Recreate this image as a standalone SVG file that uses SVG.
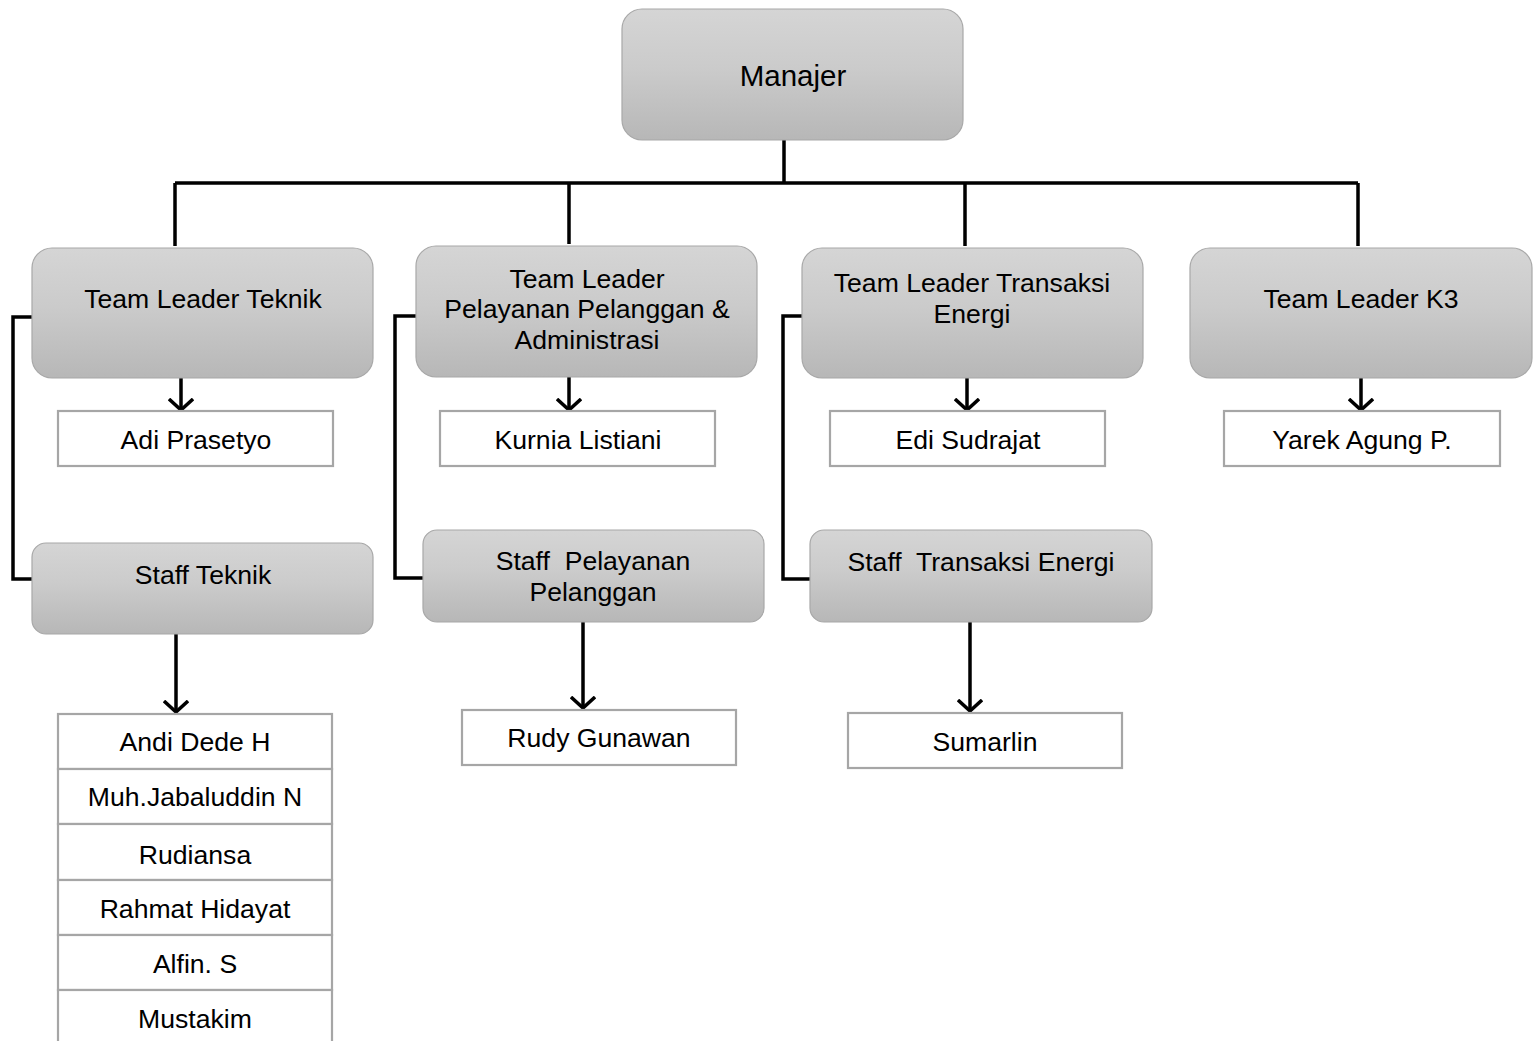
<svg xmlns="http://www.w3.org/2000/svg" width="1537" height="1041" viewBox="0 0 1537 1041">
<defs>
<linearGradient id="g" x1="0" y1="0" x2="0" y2="1">
<stop offset="0" stop-color="#d5d5d5"/>
<stop offset="0.45" stop-color="#cbcbcb"/>
<stop offset="1" stop-color="#b7b7b7"/>
</linearGradient>
<marker id="arr" viewBox="0 0 14 26" refX="12" refY="13" markerWidth="14" markerHeight="26" markerUnits="userSpaceOnUse" orient="auto">
<path d="M1,1 L12,13 L1,25" fill="none" stroke="#000" stroke-width="3.5"/>
</marker>
</defs>
<style>
.g{fill:url(#g);stroke:#a8a8a8;stroke-width:1.2}
.w{fill:#fff;stroke:#a6a6a6;stroke-width:2.2}
.t{font-family:"Liberation Sans",Arial,sans-serif;font-size:26.6px;fill:#000;text-anchor:middle}
.c{fill:none;stroke:#000;stroke-width:3.5}
</style>
<rect width="1537" height="1041" fill="#fff"/>
<g id="connectors">
<path class="c" d="M784,140 V183 M175,183 H1358 M175,183 V246 M569,183 V244 M965,183 V246 M1358,183 V246"/>
<path class="c" d="M32,317 H13 V579 H32"/>
<path class="c" d="M416,316 H395 V578 H423"/>
<path class="c" d="M802,316 H783 V579 H810"/>
<path class="c" d="M181,378 V410" marker-end="url(#arr)"/>
<path class="c" d="M569,377 V410" marker-end="url(#arr)"/>
<path class="c" d="M967,378 V410" marker-end="url(#arr)"/>
<path class="c" d="M1361,378 V410" marker-end="url(#arr)"/>
<path class="c" d="M176,634 V712" marker-end="url(#arr)"/>
<path class="c" d="M583,622 V708" marker-end="url(#arr)"/>
<path class="c" d="M970,622 V711" marker-end="url(#arr)"/>
</g>
<g id="manajer"><rect class="g" x="622" y="9" width="341" height="131" rx="20"/><text class="t" x="793" y="86" style="font-size:29.5px">Manajer</text></g>
<g id="tl-teknik"><rect class="g" x="32" y="248" width="341" height="130" rx="20"/><text class="t" x="203" y="308">Team Leader Teknik</text></g>
<g id="tl-pelayanan"><rect class="g" x="416" y="246" width="341" height="131" rx="20"/><text class="t" x="587" y="288">Team Leader</text><text class="t" x="587" y="318">Pelayanan Pelanggan &amp;</text><text class="t" x="587" y="349">Administrasi</text></g>
<g id="tl-transaksi"><rect class="g" x="802" y="248" width="341" height="130" rx="20"/><text class="t" x="972" y="292">Team Leader Transaksi</text><text class="t" x="972" y="323">Energi</text></g>
<g id="tl-k3"><rect class="g" x="1190" y="248" width="342" height="130" rx="20"/><text class="t" x="1361" y="308">Team Leader K3</text></g>
<g id="adi"><rect class="w" x="58" y="411" width="275" height="55"/><text class="t" x="196" y="449">Adi Prasetyo</text></g>
<g id="kurnia"><rect class="w" x="440" y="411" width="275" height="55"/><text class="t" x="578" y="449">Kurnia Listiani</text></g>
<g id="edi"><rect class="w" x="830" y="411" width="275" height="55"/><text class="t" x="968" y="449">Edi Sudrajat</text></g>
<g id="yarek"><rect class="w" x="1224" y="411" width="276" height="55"/><text class="t" x="1362" y="449">Yarek Agung P.</text></g>
<g id="staff-teknik"><rect class="g" x="32" y="543" width="341" height="91" rx="14"/><text class="t" x="203" y="584">Staff Teknik</text></g>
<g id="staff-pelayanan"><rect class="g" x="423" y="530" width="341" height="92" rx="14"/><text class="t" x="593" y="570" xml:space="preserve">Staff  Pelayanan</text><text class="t" x="593" y="601">Pelanggan</text></g>
<g id="staff-transaksi"><rect class="g" x="810" y="530" width="342" height="92" rx="14"/><text class="t" x="981" y="571" xml:space="preserve">Staff  Transaksi Energi</text></g>
<g id="rudy"><rect class="w" x="462" y="710" width="274" height="55"/><text class="t" x="599" y="747">Rudy Gunawan</text></g>
<g id="sumarlin"><rect class="w" x="848" y="713" width="274" height="55"/><text class="t" x="985" y="751">Sumarlin</text></g>
<g id="staff-list">
<rect class="w" x="58" y="714" width="274" height="55"/><text class="t" x="195" y="751">Andi Dede H</text>
<rect class="w" x="58" y="769" width="274" height="55"/><text class="t" x="195" y="806">Muh.Jabaluddin N</text>
<rect class="w" x="58" y="824" width="274" height="56"/><text class="t" x="195" y="864">Rudiansa</text>
<rect class="w" x="58" y="880" width="274" height="55"/><text class="t" x="195" y="918">Rahmat Hidayat</text>
<rect class="w" x="58" y="935" width="274" height="55"/><text class="t" x="195" y="973">Alfin. S</text>
<rect class="w" x="58" y="990" width="274" height="60"/><text class="t" x="195" y="1028">Mustakim</text>
</g>
</svg>
